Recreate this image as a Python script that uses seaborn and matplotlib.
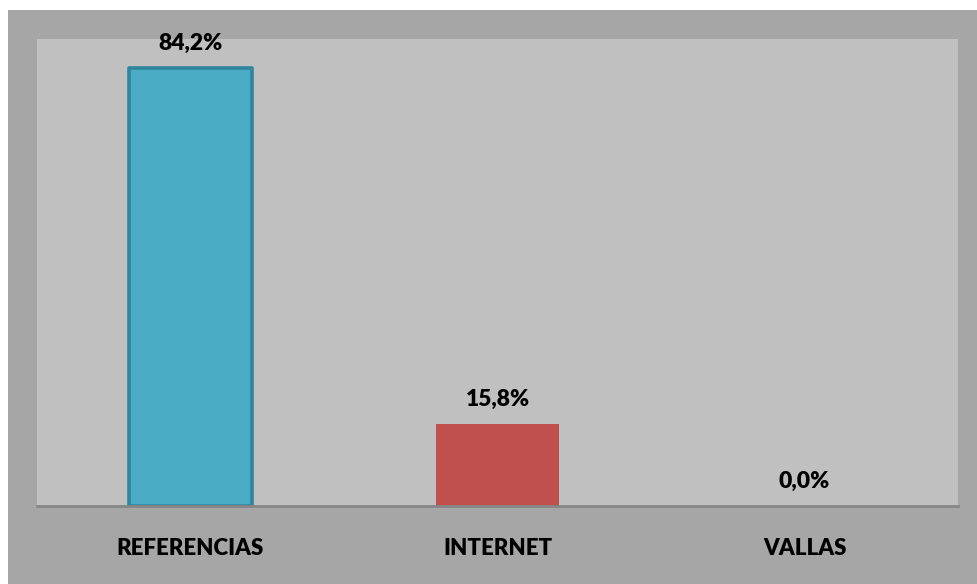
import matplotlib
matplotlib.use("Agg")
import matplotlib.pyplot as plt
from matplotlib.patches import Rectangle
import seaborn as sns
import pandas as pd

categories = ["REFERENCIAS", "INTERNET", "VALLAS"]
percentages = [84.2, 15.8, 0.0]
fill_colors = ["#4bacc6", "#c0504d", "#9bbb59"]
edge_colors = ["#31859c", "#c0504d", "#9bbb59"]
edge_widths = [2.6, 0, 0]

sns.set_theme(style="white")
plt.rcParams["font.family"] = ["Lato", "DejaVu Sans"]

W, H = 978, 584
fig = plt.figure(figsize=(W / 100, H / 100), dpi=100)
fig.patch.set_facecolor("white")

# outer chart frame, kept behind the axes
fig.patches.append(Rectangle((8 / W, 0), 1 - 8 / W, (H - 10) / H,
                             transform=fig.transFigure, facecolor="#a6a6a6",
                             edgecolor="none", zorder=-10))

ax = fig.add_axes([37 / W, (H - 506) / H, 921 / W, 467 / H])
ax.set_facecolor("#c0c0c0")

df = pd.DataFrame({"cat": categories, "pct": percentages})
sns.barplot(data=df, x="cat", y="pct", hue="cat", palette=fill_colors,
            width=0.4, legend=False, ax=ax, saturation=1)

for patch, ec, lw in zip(ax.patches, edge_colors, edge_widths):
    patch.set_edgecolor(ec)
    patch.set_linewidth(lw)
    patch.set_joinstyle("round")

for i, v in enumerate(percentages):
    ax.annotate(f"{v:.1f}%".replace(".", ","), (i, v), xytext=(0, 17.5),
                textcoords="offset points", ha="center", va="center",
                fontsize=16.5, fontweight="heavy", color="black")

ax.set_ylim(0, 89.8)
ax.set_xlim(-0.5, 2.5)
ax.set_yticks([])
ax.set_xlabel("")
ax.set_ylabel("")
ax.tick_params(axis="x", length=0, pad=23)
for lbl in ax.get_xticklabels():
    lbl.set_fontsize(16)
    lbl.set_fontweight("heavy")
    lbl.set_color("black")

for side in ["top", "left", "right"]:
    ax.spines[side].set_visible(False)
ax.spines["bottom"].set_color("#868686")
ax.spines["bottom"].set_linewidth(2)

fig.savefig("out.png", dpi=100)
